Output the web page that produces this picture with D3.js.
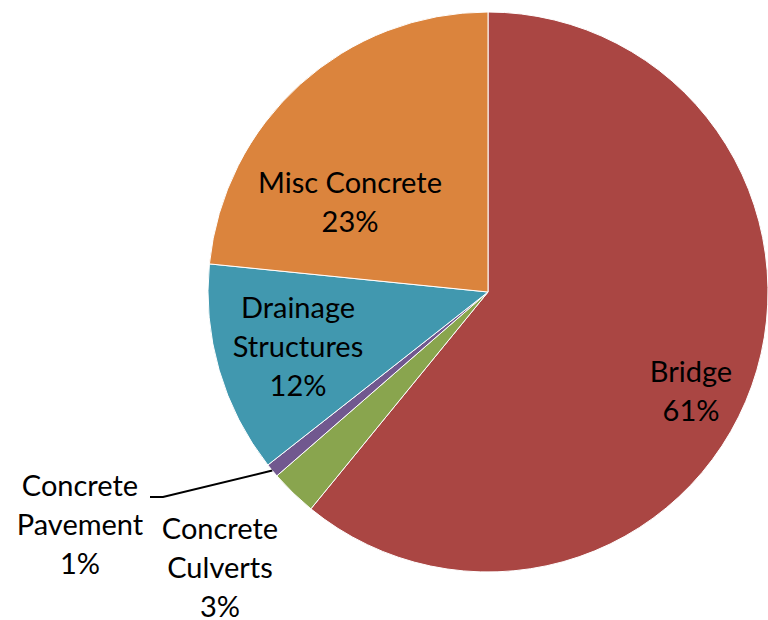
<!DOCTYPE html>
<html>
<head>
<meta charset="utf-8">
<script src="https://cdn.jsdelivr.net/npm/d3@7"></script>
<style>
  html, body { margin: 0; padding: 0; background: #fff; }
  svg { display: block; }
  text { font-family: Lato, "Open Sans", sans-serif; fill: #000; }
</style>
</head>
<body>
<svg id="chart" width="768" height="620"></svg>
<script>
// Share of concrete work by category (percent)
const categories = ["Bridge", "Concrete Culverts", "Concrete Pavement", "Drainage Structures", "Misc Concrete"];
const shares = [60.9, 2.7, 0.8, 12.2, 23.4];
const percentLabels = ["61%", "3%", "1%", "12%", "23%"];
const colors = ["#AA4643", "#89A54E", "#71588F", "#4198AF", "#DB843D"];

const svg = d3.select("#chart");
const cx = 488, cy = 292, radius = 280;

const data = categories.map((c, i) => ({ name: c, value: shares[i], pct: percentLabels[i], color: colors[i] }));

const pie = d3.pie().sort(null).value(d => d.value);
const arc = d3.arc().innerRadius(0).outerRadius(radius);
const arcs = pie(data);

const g = svg.append("g").attr("transform", `translate(${cx},${cy})`);

g.selectAll("path.slice")
  .data(arcs)
  .join("path")
  .attr("class", "slice")
  .attr("d", arc)
  .attr("fill", d => d.data.color)
  .attr("stroke", "#fff")
  .attr("stroke-width", 1);

// Label placement (offsets from pie centre, px) and line breaks
const labelLayout = {
  "Bridge":              { x: 203, y: 90,  lines: ["Bridge"] },
  "Concrete Culverts":   { x: -268, y: 247, lines: ["Concrete", "Culverts"] },
  "Concrete Pavement":   { x: -408, y: 204, lines: ["Concrete", "Pavement"] },
  "Drainage Structures": { x: -190, y: 26,  lines: ["Drainage", "Structures"] },
  "Misc Concrete":       { x: -138, y: -99, lines: ["Misc Concrete"] }
};
const lineHeight = 39;

const labels = g.selectAll("text.label")
  .data(arcs)
  .join("text")
  .attr("class", "label")
  .attr("text-anchor", "middle")
  .attr("font-size", 29)
  .attr("transform", d => `translate(${labelLayout[d.data.name].x},${labelLayout[d.data.name].y})`);

labels.each(function(d) {
  const t = d3.select(this);
  const lines = labelLayout[d.data.name].lines.concat([d.data.pct]);
  lines.forEach((ln, i) => {
    t.append("tspan").attr("x", 0).attr("y", i * lineHeight).text(ln);
  });
});

// Leader line for the small pavement slice
const pav = arcs[2];
const mid = (pav.startAngle + pav.endAngle) / 2;
const edge = [Math.sin(mid) * radius, -Math.cos(mid) * radius];
const pl = labelLayout["Concrete Pavement"];
g.append("polyline")
  .attr("points", [[pl.x + 70, pl.y + 1], [pl.x + 83, pl.y + 1], edge].map(p => p.join(",")).join(" "))
  .attr("fill", "none")
  .attr("stroke", "#000")
  .attr("stroke-width", 2);
</script>
</body>
</html>
